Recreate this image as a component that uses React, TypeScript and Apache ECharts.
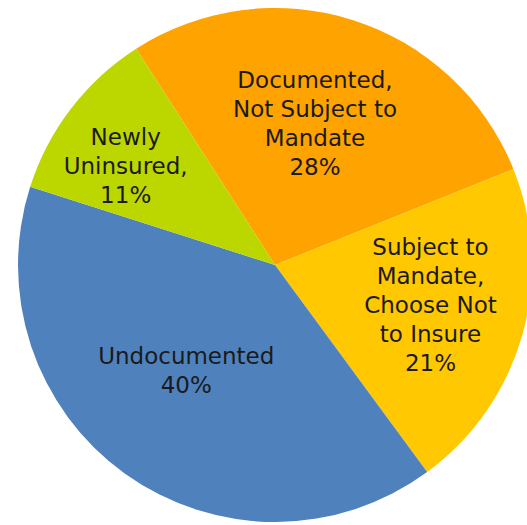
import React, { useEffect, useRef } from "react";
import * as echarts from "echarts";

const categories = [
  "Documented,\nNot Subject to\nMandate",
  "Subject to\nMandate,\nChoose Not\nto Insure",
  "Undocumented",
  "Newly\nUninsured,",
];
const values = [28, 21, 40, 11];
const colors = ["#FFA300", "#FFC800", "#4F81BD", "#BCD600"];
const labelShift = [
  [0, -16],
  [29, 4],
  [-12, -1],
  [-45, -19],
];

export default function App() {
  const ref = useRef<HTMLDivElement>(null);
  useEffect(() => {
    if (!ref.current) return;
    const chart = echarts.init(ref.current, null, { renderer: "svg" });
    chart.setOption({
      animation: false,
      backgroundColor: "#ffffff",
      series: [
        {
          type: "pie",
          center: [275, 265],
          radius: [0, 257],
          startAngle: 122.7,
          clockwise: true,
          avoidLabelOverlap: false,
          data: categories.map((c, i) => ({
            name: c,
            value: values[i],
            itemStyle: { color: colors[i] },
          })),
          label: {
            show: true,
            position: "inside",
            formatter: (p: any) => `${p.name}\n${p.value}%`,
            color: "#1a1a1a",
            fontFamily: "DejaVu Sans",
            fontSize: 23,
            lineHeight: 29,
            align: "center",
          },
          labelLine: { show: false },
          labelLayout: (params: any) => {
            const s = labelShift[params.dataIndex] || [0, 0];
            return { dx: s[0], dy: s[1] };
          },
          emphasis: { disabled: true },
        },
      ],
    });
    return () => chart.dispose();
  }, []);
  return (
    <div
      ref={ref}
      style={{ position: "fixed", left: 0, top: 0, width: 527, height: 525 }}
    />
  );
}
